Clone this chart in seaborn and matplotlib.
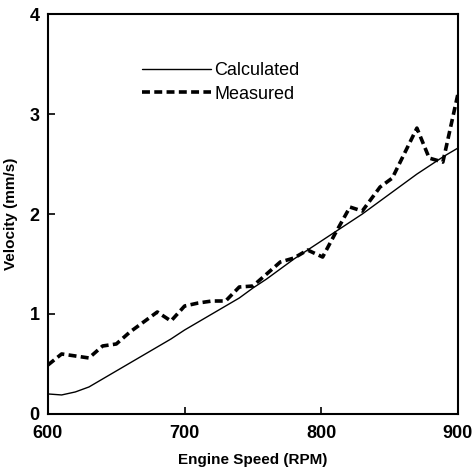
import numpy as np
import pandas as pd
import matplotlib
matplotlib.use('Agg')
import matplotlib.pyplot as plt
import seaborn as sns

# Werte
rpm_calc = [600, 610, 620, 630, 640, 650, 660, 670, 680, 690, 700, 710, 720, 730, 740,
            750, 760, 770, 780, 790, 800, 810, 820, 830, 840, 850, 860, 870, 880, 890, 900]
vel_calc = [0.20, 0.19, 0.22, 0.27, 0.35, 0.43, 0.51, 0.59, 0.67, 0.75, 0.84, 0.92, 1.00, 1.08, 1.16,
            1.26, 1.35, 1.45, 1.55, 1.64, 1.73, 1.82, 1.91, 2.00, 2.10, 2.20, 2.30, 2.40, 2.49, 2.58, 2.66]

rpm_meas = [600, 610, 620, 630, 640, 650, 660, 670, 680, 690, 700, 710, 720, 730, 740,
            750, 760, 770, 780, 790, 801, 810, 821, 830, 843, 852, 870, 879, 889, 900]
vel_meas = [0.49, 0.60, 0.58, 0.56, 0.68, 0.70, 0.82, 0.92, 1.02, 0.93, 1.08, 1.11, 1.13, 1.13, 1.27,
            1.28, 1.40, 1.52, 1.56, 1.64, 1.57, 1.80, 2.07, 2.03, 2.27, 2.36, 2.86, 2.56, 2.52, 3.20]

df_calc = pd.DataFrame({'rpm': rpm_calc, 'vel': vel_calc})
df_meas = pd.DataFrame({'rpm': rpm_meas, 'vel': vel_meas})

sns.set_style('white')
plt.rcParams['font.family'] = ['Liberation Sans', 'DejaVu Sans']
plt.rcParams['text.color'] = 'black'
plt.rcParams['axes.labelcolor'] = 'black'
plt.rcParams['xtick.color'] = 'black'
plt.rcParams['ytick.color'] = 'black'

fig, ax = plt.subplots(figsize=(4.75, 4.72), dpi=100)
fig.subplots_adjust(left=0.101, right=0.964, top=0.970, bottom=0.123)

sns.lineplot(data=df_calc, x='rpm', y='vel', ax=ax, color='black', linewidth=1.0,
             label='Calculated')
sns.lineplot(data=df_meas, x='rpm', y='vel', ax=ax, color='black', linewidth=2.6,
             linestyle=(0, (2.2, 1.2)), label='Measured')

ax.set_xlim(600, 900)
ax.set_ylim(0, 4)
ax.set_xticks([600, 700, 800, 900])
ax.set_yticks([0, 1, 2, 3, 4])
ax.tick_params(direction='in', length=5, width=1.2, labelsize=13, color='black',
               top=False, right=False, left=True, bottom=True)
ax.tick_params(axis='x', pad=8)
ax.tick_params(axis='y', pad=6)
for lab in ax.get_xticklabels() + ax.get_yticklabels():
    lab.set_fontweight('bold')
for s in ax.spines.values():
    s.set_color('black')
    s.set_linewidth(1.5)

ax.set_xlabel('Engine Speed (RPM)', fontsize=11, fontweight='bold', labelpad=8)
ax.set_ylabel('Velocity (mm/s)', fontsize=11, fontweight='bold', labelpad=8)

leg = ax.legend(loc='upper left', bbox_to_anchor=(0.19, 0.92), frameon=False,
                fontsize=13, handlelength=3.8, handletextpad=0.2, labelspacing=0.35)
for t in leg.get_texts():
    t.set_color('black')

plt.savefig('out.png', dpi=100)
